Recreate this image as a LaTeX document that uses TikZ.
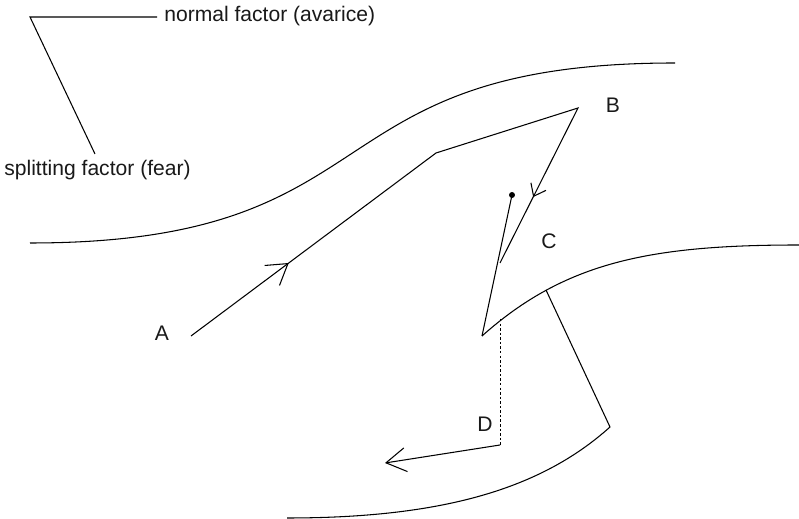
\documentclass[tikz,border=0pt]{standalone}
\usepackage{fontspec}
\setsansfont{Liberation Sans}
\usepackage{tikz}
\usetikzlibrary{arrows.meta,decorations.markings}

\begin{document}
\begin{tikzpicture}[x=0.02cm,y=-0.02cm,font=\sffamily\fontsize{12}{14}\selectfont,
  sheet/.style={line width=0.6pt},
  lbl/.style={inner sep=0pt,text=black!90},
  route/.style={line width=0.6pt,postaction={decorate},decoration={markings,
     mark=at position 2.44cm with {\arrow{Straight Barb[length=11.3pt,width=14.2pt]}},
     mark=at position 11.09cm with {\arrow{Straight Barb[length=6.2pt,width=9.6pt]}}}},
  jumpline/.style={line width=0.5pt,dash pattern=on 1.4pt off 1.2pt},
  exit/.style={line width=0.6pt,-{Straight Barb[length=11.3pt,width=13.6pt]}}]
  \useasboundingbox (0,0) rectangle (799,519);
  \coordinate (corner) at (30,17);
  \coordinate (nend) at (157,17);
  \coordinate (send) at (95,154);
  \coordinate (start) at (191,336);
  \coordinate (bend) at (436,153);
  \coordinate (peak) at (578,108);
  \coordinate (jump) at (500,263);
  \coordinate (dot) at (512,195);
  \coordinate (lip) at (482,336);
  \coordinate (drop) at (500,319);
  \coordinate (land) at (500,445);
  \coordinate (out) at (385,463);
  \coordinate (fold) at (546,290);
  \coordinate (rim) at (610,427);
  \node[lbl,anchor=base west] (nf) at (164,22) {normal factor (avarice)};
  \node[lbl,anchor=base west] (sf) at (4,176) {splitting factor (fear)};
  \node[lbl] (la) at (162,333) {A};
  \node[lbl] (lb) at (613,105) {B};
  \node[lbl] (lc) at (549,241) {C};
  \node[lbl] (ld) at (485,424) {D};
  \draw[sheet] (nend) -- (corner) -- (send);
  \draw[sheet] (30,243) .. controls (400,243) and (305,63) .. (675,63);
  \draw[sheet] (lip) .. controls (565,262) and (650,245) .. (799,245);
  \draw[sheet] (fold) -- (rim) .. controls (540,490) and (440,518) .. (287,518);
  \draw[route] (start) -- (bend) -- (peak) -- (jump);
  \fill (dot) circle (1.7pt);
  \draw[sheet] (dot) -- (lip);
  \draw[jumpline] (drop) -- (land);
  \draw[exit] (land) -- (out);
\end{tikzpicture}
\end{document}
